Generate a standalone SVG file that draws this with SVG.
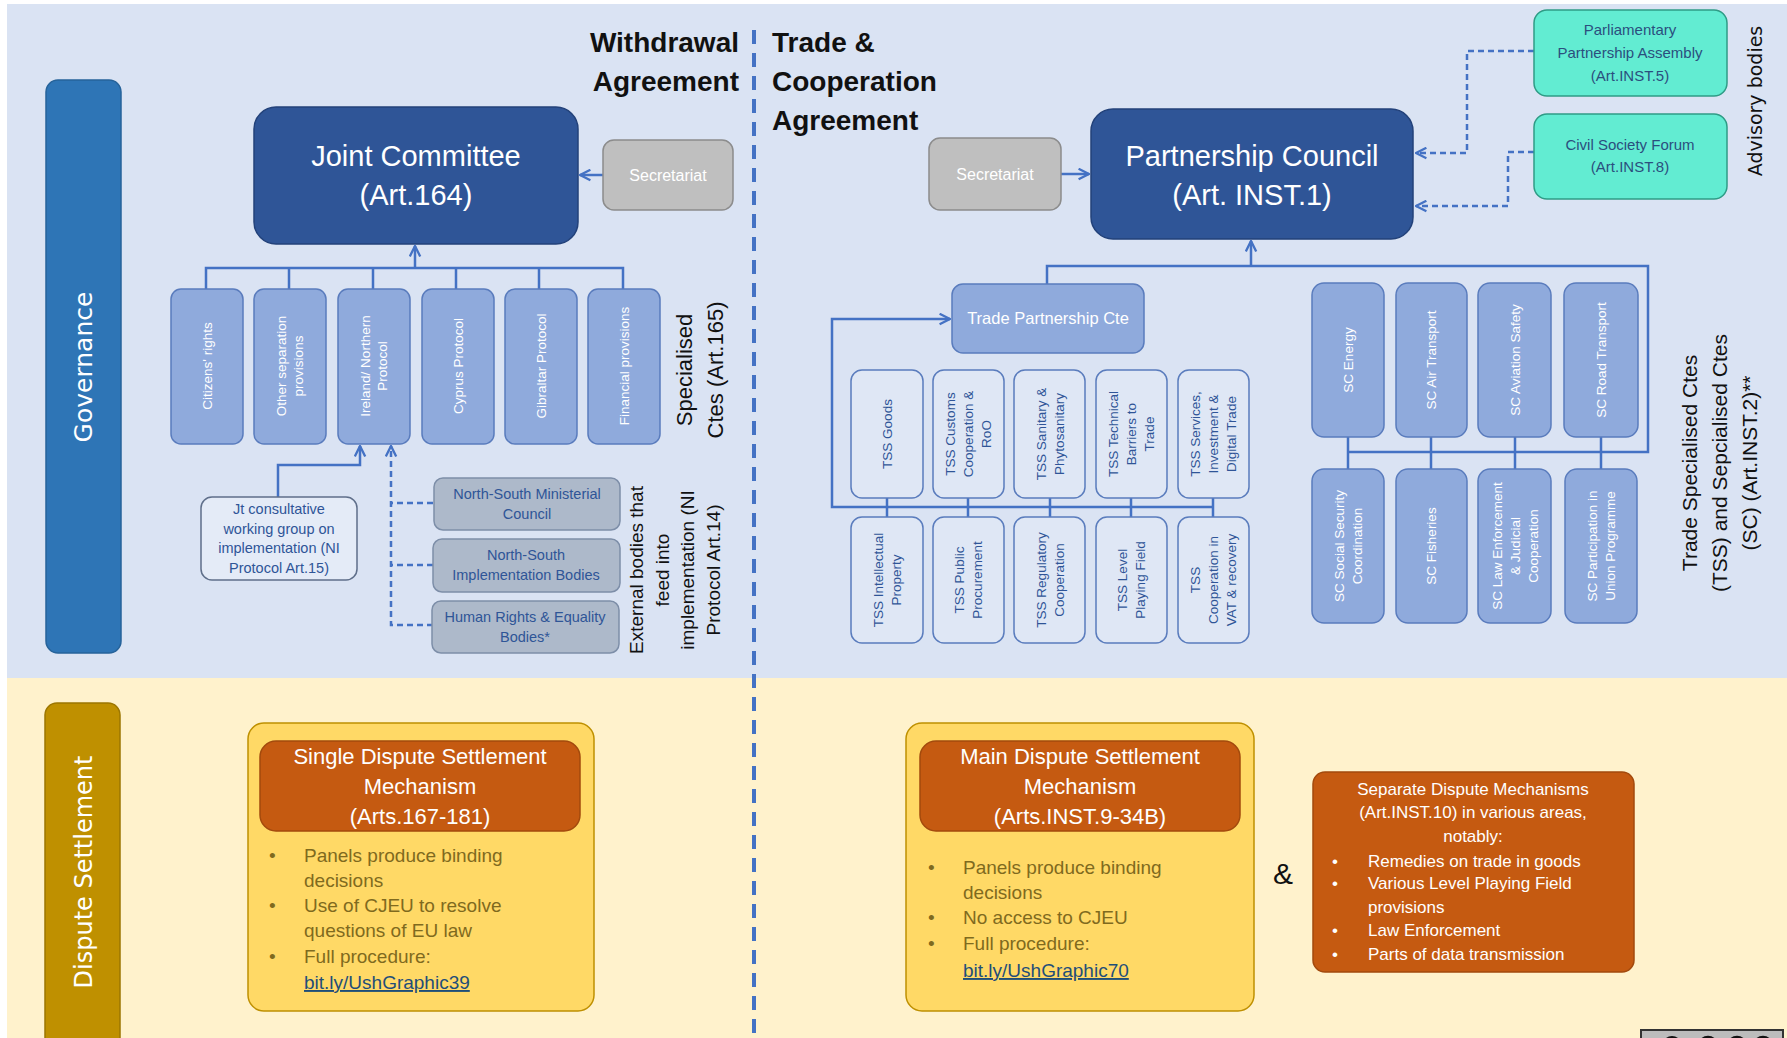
<svg xmlns="http://www.w3.org/2000/svg" width="1787" height="1038" viewBox="0 0 1787 1038">
<style>
text{font-family:"Liberation Sans",Arial,sans-serif}
.hd{font-weight:bold;font-size:28px;fill:#111}
.big{fill:#fff;font-size:29px;text-anchor:middle}
.sec{fill:#bfbfbf;stroke:#8c8c8c;stroke-width:1.5}
.sect{fill:#fff;font-size:16px;text-anchor:middle}
.mid{fill:#8faadc;stroke:#5a7cbd;stroke-width:1.5}
.midt{fill:#fff;font-size:13.5px;text-anchor:middle}
.tss{fill:#dfe7f5;stroke:#5a7cbd;stroke-width:1.5}
.tsst{fill:#2f5597;font-size:13.5px;text-anchor:middle}
.ext{fill:#adb9ca;stroke:#7d8ea8;stroke-width:1.5}
.extt{fill:#2f5597;font-size:14.5px;text-anchor:middle}
.adv{fill:#62ecd2;stroke:#2f9c86;stroke-width:1.5}
.advt{fill:#2b4f7e;font-size:15px;text-anchor:middle}
.lab{fill:#111;font-size:21px;text-anchor:middle}
.con{fill:none;stroke:#4472c4;stroke-width:2.5}
.dash{fill:none;stroke:#4472c4;stroke-width:2.5;stroke-dasharray:6 4}
.outer{fill:#ffd966;stroke:#bf9000;stroke-width:1.5}
.hdr{fill:#c55a11;stroke:#a34a0d;stroke-width:1.5}
.hdrt{fill:#fff;font-size:22px;text-anchor:middle}
.bul{fill:#7f6a1e;font-size:19px}
.sep{fill:#fff;font-size:17px}
</style>
<defs>
<marker id="arr" viewBox="0 0 10 10" refX="9" refY="5" markerWidth="13" markerHeight="13" orient="auto" markerUnits="userSpaceOnUse">
<path d="M1,1 L9,5 L1,9" fill="none" stroke="#4472c4" stroke-width="1.8"/>
</marker>
</defs>

<!-- backgrounds -->
<rect x="0" y="0" width="1787" height="1038" fill="#ffffff"/>
<rect x="7" y="4" width="1780" height="674" fill="#dae3f3"/>
<rect x="7" y="678" width="1780" height="360" fill="#fff2cc"/>

<!-- side bars -->
<g id="governance-bar">
<rect x="46" y="80" width="75" height="573" rx="12" fill="#2e75b6" stroke="#26639a" stroke-width="1.5"/>
<text transform="translate(83,367) rotate(-90)" text-anchor="middle" dy="9" style="font-family:'DejaVu Sans',sans-serif;font-size:25px;fill:#fff">Governance</text>
</g>
<g id="dispute-bar">
<rect x="45" y="703" width="75" height="360" rx="12" fill="#bf9000" stroke="#9c7600" stroke-width="1.5"/>
<text transform="translate(83,872) rotate(-90)" text-anchor="middle" dy="9" style="font-family:'DejaVu Sans',sans-serif;font-size:24px;fill:#fff">Dispute Settlement</text>
</g>

<!-- divider -->
<line x1="754" y1="30" x2="754" y2="1038" stroke="#4472c4" stroke-width="4" stroke-dasharray="14 9"/>

<!-- headings -->
<text class="hd" x="739" y="52" text-anchor="end">Withdrawal</text>
<text class="hd" x="739" y="91" text-anchor="end">Agreement</text>
<text class="hd" x="772" y="52">Trade &amp;</text>
<text class="hd" x="772" y="91">Cooperation</text>
<text class="hd" x="772" y="130">Agreement</text>

<!-- connectors -->
<g id="connectors">
<path class="con" d="M603,175 H580" marker-end="url(#arr)"/>
<path class="con" d="M415,268 V246" marker-end="url(#arr)"/>
<path class="con" d="M206,289 V268 H623 V289 M289,268 V289 M373,268 V289 M456,268 V289 M539,268 V289"/>
<path class="con" d="M278,497 V465 H360 V446" marker-end="url(#arr)"/>
<path class="dash" d="M433,625 H391 V446" marker-end="url(#arr)"/>
<path class="dash" d="M433,503 H391 M433,565 H391"/>
<path class="con" d="M1061,174 H1089" marker-end="url(#arr)"/>
<path class="con" d="M1251,266 V241" marker-end="url(#arr)"/>
<path class="con" d="M1047,284 V266 H1648 V452 H1348"/>
<path class="con" d="M1348,437 V469 M1431,437 V469 M1515,437 V469 M1601,437 V469"/>
<path class="con" d="M1213,507 H832 V319 H950" marker-end="url(#arr)"/>
<path class="con" d="M887,498 V517 M968,498 V517 M1050,498 V517 M1131,498 V517 M1213,498 V517"/>
<path class="dash" d="M1534,51 H1467 V153 H1416" marker-end="url(#arr)"/>
<path class="dash" d="M1534,152 H1508 V206 H1416" marker-end="url(#arr)"/>
</g>

<!-- WA governance -->
<g id="joint-committee">
<rect x="254" y="107" width="324" height="137" rx="22" fill="#2f5597" stroke="#23427a" stroke-width="1.5"/>
<text class="big" x="416" y="166">Joint Committee</text>
<text class="big" x="416" y="205">(Art.164)</text>
</g>
<g id="secretariat-wa">
<rect class="sec" x="603" y="140" width="130" height="70" rx="11"/>
<text class="sect" x="668" y="181">Secretariat</text>
</g>

<g id="cte-citizens">
<rect class="mid" x="171" y="289" width="72" height="155" rx="10"/>
<text class="midt" transform="translate(207,366) rotate(-90)"><tspan x="0" dy="5">Citizens' rights</tspan></text>
</g>
<g id="cte-separation">
<rect class="mid" x="254" y="289" width="72" height="155" rx="10"/>
<text class="midt" transform="translate(290,366) rotate(-90)"><tspan x="0" dy="-4">Other separation</tspan><tspan x="0" dy="17">provisions</tspan></text>
</g>
<g id="cte-ireland">
<rect class="mid" x="338" y="289" width="72" height="155" rx="10"/>
<text class="midt" transform="translate(374,366) rotate(-90)"><tspan x="0" dy="-4">Ireland/ Northern</tspan><tspan x="0" dy="17">Protocol</tspan></text>
</g>
<g id="cte-cyprus">
<rect class="mid" x="422" y="289" width="72" height="155" rx="10"/>
<text class="midt" transform="translate(458,366) rotate(-90)"><tspan x="0" dy="5">Cyprus Protocol</tspan></text>
</g>
<g id="cte-gibraltar">
<rect class="mid" x="505" y="289" width="72" height="155" rx="10"/>
<text class="midt" transform="translate(541,366) rotate(-90)"><tspan x="0" dy="5">Gibraltar Protocol</tspan></text>
</g>
<g id="cte-financial">
<rect class="mid" x="588" y="289" width="72" height="155" rx="10"/>
<text class="midt" transform="translate(624,366) rotate(-90)"><tspan x="0" dy="5">Financial provisions</tspan></text>
</g>
<text class="lab" transform="translate(700,370) rotate(-90)" style="font-size:22px"><tspan x="0" dy="-8">Specialised</tspan><tspan x="0" dy="31">Ctes (Art.165)</tspan></text>

<g id="jt-working-group">
<rect x="201" y="497" width="156" height="83" rx="11" fill="#e4ebf7" stroke="#5f6f8a" stroke-width="1.5"/>
<text class="extt" x="279" y="514"><tspan x="279">Jt consultative</tspan><tspan x="279" dy="19.5">working group on</tspan><tspan x="279" dy="19.5">implementation (NI</tspan><tspan x="279" dy="19.5">Protocol Art.15)</tspan></text>
</g>
<g id="ext-nsmc">
<rect class="ext" x="434" y="478" width="186" height="52" rx="9"/>
<text class="extt" x="527" y="499"><tspan x="527">North-South Ministerial</tspan><tspan x="527" dy="20">Council</tspan></text>
</g>
<g id="ext-nsib">
<rect class="ext" x="433" y="539" width="187" height="53" rx="9"/>
<text class="extt" x="526" y="560"><tspan x="526">North-South</tspan><tspan x="526" dy="20">Implementation Bodies</tspan></text>
</g>
<g id="ext-hr">
<rect class="ext" x="432" y="601" width="187" height="52" rx="9"/>
<text class="extt" x="525" y="622"><tspan x="525">Human Rights &amp; Equality</tspan><tspan x="525" dy="20">Bodies*</tspan></text>
</g>
<text class="lab" transform="translate(675,570) rotate(-90)" style="font-size:19px"><tspan x="0" dy="-32">External bodies that</tspan><tspan x="0" dy="25.5">feed into</tspan><tspan x="0" dy="25.5">implementation (NI</tspan><tspan x="0" dy="25.5">Protocol Art.14)</tspan></text>

<!-- TCA governance -->
<g id="partnership-council">
<rect x="1091" y="109" width="322" height="130" rx="22" fill="#2f5597" stroke="#23427a" stroke-width="1.5"/>
<text class="big" x="1252" y="166">Partnership Council</text>
<text class="big" x="1252" y="205">(Art. INST.1)</text>
</g>
<g id="secretariat-tca">
<rect class="sec" x="929" y="138" width="132" height="72" rx="11"/>
<text class="sect" x="995" y="180">Secretariat</text>
</g>
<g id="ppa">
<rect class="adv" x="1534" y="10" width="193" height="86" rx="13"/>
<text class="advt" x="1630" y="35"><tspan x="1630">Parliamentary</tspan><tspan x="1630" dy="23">Partnership Assembly</tspan><tspan x="1630" dy="23">(Art.INST.5)</tspan></text>
</g>
<g id="csf">
<rect class="adv" x="1534" y="114" width="193" height="85" rx="13"/>
<text class="advt" x="1630" y="150"><tspan x="1630">Civil Society Forum</tspan><tspan x="1630" dy="22">(Art.INST.8)</tspan></text>
</g>
<text transform="translate(1755,101) rotate(-90)" text-anchor="middle" dy="7" style="font-family:'DejaVu Sans',sans-serif;font-size:19px;fill:#111">Advisory bodies</text>

<g id="trade-partnership-cte">
<rect class="mid" x="952" y="284" width="192" height="69" rx="11"/>
<text x="1048" y="324" text-anchor="middle" style="fill:#fff;font-size:16.5px">Trade Partnership Cte</text>
</g>

<g id="tss-goods"><rect class="tss" x="851" y="370" width="72" height="128" rx="11"/>
<text class="tsst" transform="translate(887,434) rotate(-90)"><tspan x="0" dy="5">TSS Goods</tspan></text></g>
<g id="tss-customs"><rect class="tss" x="933" y="370" width="71" height="128" rx="11"/>
<text class="tsst" transform="translate(968,434) rotate(-90)"><tspan x="0" dy="-13">TSS Customs</tspan><tspan x="0" dy="18">Cooperation &amp;</tspan><tspan x="0" dy="18">RoO</tspan></text></g>
<g id="tss-sps"><rect class="tss" x="1014" y="370" width="71" height="128" rx="11"/>
<text class="tsst" transform="translate(1050,434) rotate(-90)"><tspan x="0" dy="-4">TSS Sanitary &amp;</tspan><tspan x="0" dy="18">Phytosanitary</tspan></text></g>
<g id="tss-tbt"><rect class="tss" x="1096" y="370" width="71" height="128" rx="11"/>
<text class="tsst" transform="translate(1131,434) rotate(-90)"><tspan x="0" dy="-13">TSS Technical</tspan><tspan x="0" dy="18">Barriers to</tspan><tspan x="0" dy="18">Trade</tspan></text></g>
<g id="tss-services"><rect class="tss" x="1178" y="370" width="71" height="128" rx="11"/>
<text class="tsst" transform="translate(1213,434) rotate(-90)"><tspan x="0" dy="-13">TSS Services,</tspan><tspan x="0" dy="18">Investment &amp;</tspan><tspan x="0" dy="18">Digital Trade</tspan></text></g>

<g id="tss-ip"><rect class="tss" x="851" y="517" width="72" height="126" rx="11"/>
<text class="tsst" transform="translate(887,580) rotate(-90)"><tspan x="0" dy="-4">TSS Intellectual</tspan><tspan x="0" dy="18">Property</tspan></text></g>
<g id="tss-procurement"><rect class="tss" x="933" y="517" width="71" height="126" rx="11"/>
<text class="tsst" transform="translate(968,580) rotate(-90)"><tspan x="0" dy="-4">TSS Public</tspan><tspan x="0" dy="18">Procurement</tspan></text></g>
<g id="tss-regulatory"><rect class="tss" x="1014" y="517" width="71" height="126" rx="11"/>
<text class="tsst" transform="translate(1050,580) rotate(-90)"><tspan x="0" dy="-4">TSS Regulatory</tspan><tspan x="0" dy="18">Cooperation</tspan></text></g>
<g id="tss-lpf"><rect class="tss" x="1096" y="517" width="71" height="126" rx="11"/>
<text class="tsst" transform="translate(1131,580) rotate(-90)"><tspan x="0" dy="-4">TSS Level</tspan><tspan x="0" dy="18">Playing Field</tspan></text></g>
<g id="tss-vat"><rect class="tss" x="1178" y="517" width="71" height="126" rx="11"/>
<text class="tsst" transform="translate(1213,580) rotate(-90)"><tspan x="0" dy="-13">TSS</tspan><tspan x="0" dy="18">Cooperation in</tspan><tspan x="0" dy="18">VAT &amp; recovery</tspan></text></g>

<g id="sc-energy"><rect class="mid" x="1312" y="283" width="72" height="154" rx="12"/>
<text class="midt" transform="translate(1348,360) rotate(-90)"><tspan x="0" dy="5">SC Energy</tspan></text></g>
<g id="sc-air"><rect class="mid" x="1396" y="283" width="71" height="154" rx="12"/>
<text class="midt" transform="translate(1431,360) rotate(-90)"><tspan x="0" dy="5">SC Air Transport</tspan></text></g>
<g id="sc-aviation"><rect class="mid" x="1478" y="283" width="73" height="154" rx="12"/>
<text class="midt" transform="translate(1515,360) rotate(-90)"><tspan x="0" dy="5">SC Aviation Safety</tspan></text></g>
<g id="sc-road"><rect class="mid" x="1564" y="283" width="74" height="154" rx="12"/>
<text class="midt" transform="translate(1601,360) rotate(-90)"><tspan x="0" dy="5">SC Road Transport</tspan></text></g>

<g id="sc-social"><rect class="mid" x="1312" y="469" width="72" height="154" rx="12"/>
<text class="midt" transform="translate(1348,546) rotate(-90)"><tspan x="0" dy="-4">SC Social Security</tspan><tspan x="0" dy="18">Coordination</tspan></text></g>
<g id="sc-fisheries"><rect class="mid" x="1396" y="469" width="71" height="154" rx="12"/>
<text class="midt" transform="translate(1431,546) rotate(-90)"><tspan x="0" dy="5">SC Fisheries</tspan></text></g>
<g id="sc-law"><rect class="mid" x="1478" y="469" width="73" height="154" rx="12"/>
<text class="midt" transform="translate(1515,546) rotate(-90)"><tspan x="0" dy="-13">SC Law Enforcement</tspan><tspan x="0" dy="18">&amp; Judicial</tspan><tspan x="0" dy="18">Cooperation</tspan></text></g>
<g id="sc-union"><rect class="mid" x="1565" y="469" width="72" height="154" rx="12"/>
<text class="midt" transform="translate(1601,546) rotate(-90)"><tspan x="0" dy="-4">SC Participation in</tspan><tspan x="0" dy="18">Union Programme</tspan></text></g>

<text class="lab" transform="translate(1720,463) rotate(-90)"><tspan x="0" dy="-23">Trade Specialised Ctes</tspan><tspan x="0" dy="30">(TSS) and Sepcialised Ctes</tspan><tspan x="0" dy="30">(SC) (Art.INST.2)**</tspan></text>

<!-- Dispute settlement -->
<g id="single-dsm">
<rect class="outer" x="248" y="723" width="346" height="288" rx="16"/>
<rect class="hdr" x="260" y="741" width="320" height="90" rx="16"/>
<text class="hdrt" x="420" y="764"><tspan x="420">Single Dispute Settlement</tspan><tspan x="420" dy="30">Mechanism</tspan><tspan x="420" dy="30">(Arts.167-181)</tspan></text>
<text class="bul" x="269" y="862">•</text>
<text class="bul" x="269" y="912">•</text>
<text class="bul" x="269" y="963">•</text>
<text class="bul" x="304" y="862"><tspan x="304">Panels produce binding</tspan><tspan x="304" dy="25">decisions</tspan><tspan x="304" dy="25">Use of CJEU to resolve</tspan><tspan x="304" dy="25">questions of EU law</tspan><tspan x="304" dy="26">Full procedure:</tspan></text>
<text x="304" y="989" text-decoration="underline" style="fill:#1f4e79;font-size:19px">bit.ly/UshGraphic39</text>
</g>

<g id="main-dsm">
<rect class="outer" x="906" y="723" width="348" height="288" rx="16"/>
<rect class="hdr" x="920" y="741" width="320" height="90" rx="16"/>
<text class="hdrt" x="1080" y="764"><tspan x="1080">Main Dispute Settlement</tspan><tspan x="1080" dy="30">Mechanism</tspan><tspan x="1080" dy="30">(Arts.INST.9-34B)</tspan></text>
<text class="bul" x="928" y="874">•</text>
<text class="bul" x="928" y="924">•</text>
<text class="bul" x="928" y="950">•</text>
<text class="bul" x="963" y="874"><tspan x="963">Panels produce binding</tspan><tspan x="963" dy="25">decisions</tspan><tspan x="963" dy="25">No access to CJEU</tspan><tspan x="963" dy="26">Full procedure:</tspan></text>
<text x="963" y="977" text-decoration="underline" style="fill:#1f4e79;font-size:19px">bit.ly/UshGraphic70</text>
</g>

<text x="1283" y="884" text-anchor="middle" style="font-size:30px;fill:#111">&amp;</text>

<g id="separate-dsm">
<rect class="hdr" x="1313" y="772" width="321" height="200" rx="12"/>
<text class="sep" x="1473" y="795" text-anchor="middle"><tspan x="1473">Separate Dispute Mechanisms</tspan><tspan x="1473" dy="23">(Art.INST.10) in various areas,</tspan><tspan x="1473" dy="24">notably:</tspan></text>
<text class="sep" x="1332" y="867">•</text>
<text class="sep" x="1332" y="889">•</text>
<text class="sep" x="1332" y="936">•</text>
<text class="sep" x="1332" y="960">•</text>
<text class="sep" x="1368" y="867"><tspan x="1368">Remedies on trade in goods</tspan><tspan x="1368" dy="22">Various Level Playing Field</tspan><tspan x="1368" dy="24">provisions</tspan><tspan x="1368" dy="23">Law Enforcement</tspan><tspan x="1368" dy="24">Parts of data transmission</tspan></text>
</g>

<!-- licence badge (cut off) -->
<g id="badge">
<rect x="1641" y="1030" width="142" height="20" fill="#bcbcbc" stroke="#333" stroke-width="2"/>
<circle cx="1672" cy="1046" r="10" fill="#111"/>
<circle cx="1708" cy="1046" r="9" fill="none" stroke="#111" stroke-width="2.5"/>
<circle cx="1737" cy="1046" r="9" fill="none" stroke="#111" stroke-width="2.5"/>
<circle cx="1763" cy="1046" r="9" fill="none" stroke="#111" stroke-width="2.5"/>
</g>
</svg>
